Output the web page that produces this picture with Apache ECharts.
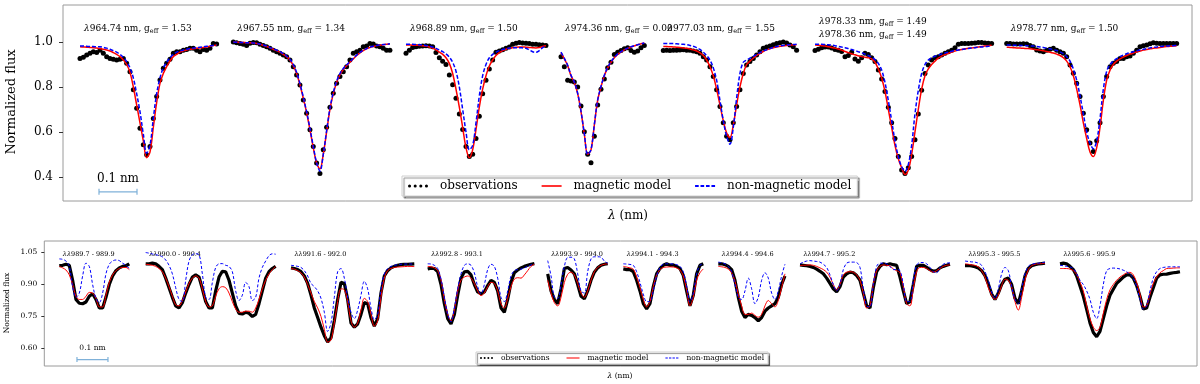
<!DOCTYPE html>
<html>
<head>
<meta charset="utf-8">
<script src="https://cdn.jsdelivr.net/npm/echarts@6/dist/echarts.min.js"></script>
<style>
html, body { margin: 0; background: #fff; }
#main { width: 1200px; height: 384px; }
</style>
</head>
<body>
<div id="main"></div>
<script>
// wavelength spacing of the sampled spectra (nm)
const topStep = 0.00877
const botStep = 0.01075

// line identifications (wavelength nm, g_eff); the 6th window holds a blend
const topLines = [
  [['964.74', '1.53']],
  [['967.55', '1.34']],
  [['968.89', '1.50']],
  [['974.36', '0.00']],
  [['977.03', '1.55']],
  [['978.33', '1.49'], ['978.36', '1.49']],
  [['978.77', '1.50']],
]
const botRanges = ['989.7 - 989.9', '990.0 - 990.4', '991.6 - 992.0', '992.8 - 993.1', '993.9 - 994.0',
  '994.1 - 994.3', '994.4 - 994.6', '994.7 - 995.2', '995.3 - 995.5', '995.6 - 995.9']

const topTicks = [0.4, 0.6, 0.8, 1.0]
const botTicks = [0.60, 0.75, 0.90, 1.05]

// normalized flux, upper panel
const topObs = [
  [.927,.932,.942,.95,.957,.953,.964,.95,.935,.927,.923,.92,.923,.927,.905,.868,.787,.705,.616,.542,.498,.535,.66,.757,.831,.883,.905,.923,.95,.957,.957,.964,.967,.972,.972,.964,.957,.967,.964,.972,.994,.991],
  [1.0,.997,.994,.99,.985,.995,.998,.997,.99,.985,.979,.972,.964,.957,.95,.942,.935,.92,.89,.853,.809,.742,.683,.609,.535,.461,.415,.52,.62,.71,.772,.816,.846,.868,.89,.92,.95,.957,.964,.979,.982,.994,.991,.982,.979,.972,.964,.964],
  [.95,.963,.976,.979,.981,.982,.984,.982,.979,.953,.93,.915,.9,.853,.81,.75,.68,.61,.535,.49,.5,.57,.67,.77,.83,.88,.92,.955,.96,.966,.972,.978,.99,.995,.998,.996,.995,.993,.99,.99,.988,.987,.985],
  [.935,.89,.83,.827,.822,.8,.715,.6,.5,.462,.58,.72,.79,.835,.885,.91,.945,.955,.962,.97,.975,.962,.955,.96,.975,.985],
  [.962,.963,.962,.964,.963,.965,.966,.964,.963,.96,.957,.95,.935,.92,.89,.846,.787,.713,.64,.58,.565,.64,.713,.787,.86,.898,.913,.927,.942,.957,.972,.978,.982,.988,.994,.997,1.0,.996,.987,.979,.964],
  [.962,.968,.975,.978,.978,.973,.967,.964,.958,.935,.94,.955,.925,.915,.93,.95,.945,.93,.913,.875,.835,.78,.71,.64,.57,.49,.43,.415,.44,.49,.565,.68,.785,.86,.898,.92,.93,.935,.942,.95,.957,.964,.975,.99,.993,.994,.994,.995,.996,.998,.998,.996,.995,.994],
  [.994,.993,.991,.991,.991,.992,.991,.985,.979,.965,.96,.957,.963,.968,.972,.964,.957,.95,.935,.898,.861,.816,.757,.683,.609,.55,.513,.56,.64,.757,.846,.89,.905,.913,.927,.927,.935,.938,.95,.964,.979,.983,.987,.992,.997,.995,.994,.994,.994,.993,.993,.994],
]
const topMag = [
  [.979,.978,.977,.976,.975,.973,.971,.968,.965,.96,.953,.945,.935,.92,.9,.865,.80,.72,.64,.56,.485,.51,.62,.73,.816,.86,.89,.915,.935,.945,.955,.961,.965,.968,.97,.972,.974,.976,.978,.981,.984,.987],
  [1.0,.999,.998,.998,.997,.997,.996,.994,.99,.985,.98,.974,.968,.962,.955,.945,.935,.92,.895,.86,.81,.75,.685,.61,.53,.46,.435,.5,.6,.7,.77,.82,.855,.878,.895,.91,.925,.94,.952,.962,.97,.976,.98,.984,.986,.988,.99,.991],
  [.987,.987,.986,.986,.985,.984,.982,.978,.973,.965,.955,.945,.93,.905,.86,.79,.71,.62,.53,.485,.52,.61,.71,.79,.85,.893,.92,.94,.953,.962,.968,.972,.975,.977,.978,.978,.977,.976,.975,.974,.976,.98,.983],
  [.953,.925,.895,.85,.82,.77,.69,.59,.5,.52,.63,.74,.8,.85,.885,.91,.93,.945,.955,.965,.972,.978,.983,.988,.992,.996],
  [.98,.98,.979,.978,.977,.976,.974,.972,.969,.965,.96,.952,.94,.92,.89,.85,.79,.72,.65,.595,.575,.63,.72,.8,.86,.9,.915,.928,.94,.95,.958,.965,.97,.975,.978,.981,.983,.985,.986,.987,.988],
  [.987,.986,.984,.982,.979,.976,.973,.969,.964,.958,.953,.948,.943,.939,.935,.932,.93,.925,.91,.88,.84,.78,.7,.62,.54,.48,.44,.41,.43,.5,.6,.7,.79,.85,.88,.9,.915,.928,.937,.944,.95,.955,.96,.964,.967,.97,.972,.974,.976,.978,.98,.982,.984,.986],
  [.977,.976,.975,.974,.973,.972,.971,.97,.968,.966,.964,.961,.958,.955,.951,.946,.94,.93,.915,.89,.85,.79,.72,.64,.57,.51,.49,.53,.62,.74,.83,.875,.9,.915,.925,.933,.94,.946,.951,.956,.96,.964,.967,.97,.972,.974,.976,.978,.98,.981,.982,.983],
]
const topNon = [
  [.982,.982,.981,.98,.98,.979,.979,.976,.973,.968,.962,.955,.945,.932,.913,.885,.84,.77,.69,.59,.505,.54,.66,.77,.84,.885,.91,.93,.945,.955,.96,.965,.968,.971,.973,.975,.977,.979,.981,.983,.985,.987],
  [1.0,.999,.998,.998,.997,.997,.996,.994,.991,.987,.982,.976,.97,.964,.957,.948,.938,.923,.9,.865,.815,.755,.69,.615,.535,.462,.425,.5,.605,.705,.775,.825,.86,.882,.898,.913,.928,.942,.954,.963,.971,.977,.981,.985,.987,.989,.99,.992],
  [.99,.99,.99,.989,.988,.987,.985,.982,.978,.972,.965,.957,.947,.933,.91,.87,.8,.7,.6,.52,.54,.64,.76,.85,.9,.93,.945,.955,.962,.967,.97,.973,.974,.975,.975,.974,.972,.965,.957,.954,.962,.975,.985],
  [.955,.927,.897,.852,.822,.772,.692,.592,.5,.52,.632,.742,.802,.852,.887,.912,.932,.947,.957,.966,.973,.979,.984,.988,.992,.996],
  [.994,.994,.993,.993,.992,.991,.99,.988,.985,.981,.975,.967,.955,.94,.92,.885,.83,.74,.65,.58,.545,.62,.75,.86,.91,.92,.928,.936,.945,.953,.96,.966,.971,.976,.98,.983,.985,.987,.988,.989,.99],
  [.99,.99,.99,.989,.988,.986,.984,.981,.978,.975,.971,.967,.962,.957,.952,.946,.94,.932,.922,.905,.875,.82,.74,.65,.56,.49,.445,.425,.455,.54,.68,.785,.86,.9,.92,.93,.937,.942,.947,.951,.955,.959,.962,.965,.967,.969,.971,.973,.975,.977,.978,.98,.981,.982],
  [.987,.987,.986,.986,.985,.985,.984,.983,.982,.98,.978,.976,.973,.97,.966,.962,.956,.948,.935,.915,.88,.83,.76,.68,.6,.55,.525,.56,.66,.79,.87,.9,.915,.926,.935,.942,.948,.953,.957,.961,.965,.968,.971,.974,.976,.978,.98,.981,.982,.983,.984,.985],
]

// normalized flux, lower panel
const botObs = [
  [.989,.99,.995,.99,.92,.83,.812,.81,.818,.845,.857,.83,.79,.79,.84,.9,.94,.965,.978,.985,.988,.997],
  [.997,.997,1.0,.997,.985,.97,.93,.885,.84,.8,.79,.815,.86,.9,.935,.945,.935,.88,.82,.79,.79,.87,.935,.962,.96,.92,.86,.8,.765,.762,.77,.765,.75,.76,.81,.87,.93,.96,.975,.985],
  [.978,.975,.97,.96,.94,.905,.85,.79,.745,.7,.66,.63,.65,.73,.83,.91,.905,.83,.72,.7,.715,.76,.815,.81,.745,.705,.74,.86,.94,.965,.978,.985,.99,.993,.995,.995,.996,.997],
  [.973,.977,.975,.96,.9,.81,.74,.715,.76,.85,.93,.96,.962,.945,.9,.865,.856,.865,.895,.92,.91,.87,.79,.77,.83,.91,.955,.968,.978,.985,.99,.995,.998],
  [.95,.87,.83,.81,.88,.975,.98,.968,.95,.9,.845,.833,.87,.92,.958,.978,.99,.995,.998],
  [.973,.97,.97,.96,.92,.87,.81,.786,.81,.89,.95,.975,.99,.997,.99,.992,.985,.975,.943,.87,.8,.85,.95,.99,.997],
  [.997,.997,.993,.985,.97,.92,.84,.775,.745,.76,.755,.745,.73,.745,.775,.79,.8,.81,.84,.9,.94],
  [.992,.99,.988,.985,.98,.972,.962,.95,.93,.905,.88,.866,.89,.935,.95,.958,.955,.942,.92,.86,.8,.79,.885,.96,.985,.997,.993,.997,.993,.99,.935,.87,.81,.82,.9,.985,.99,.99,.98,.97,.962,.965,.978,.985,.99,.995],
  [.989,.989,.987,.983,.977,.965,.942,.903,.855,.83,.86,.9,.925,.93,.9,.835,.81,.87,.94,.975,.988,.993,.996,.998,1.0],
  [.997,1.0,.997,.985,.97,.94,.893,.845,.784,.72,.675,.655,.68,.74,.8,.85,.878,.905,.92,.935,.945,.945,.93,.895,.845,.785,.79,.84,.885,.93,.945,.948,.949,.952,.955,.957,.96],
]
const botMag = [
  [.985,.978,.968,.945,.9,.845,.83,.83,.845,.863,.86,.835,.795,.795,.85,.91,.945,.965,.975,.98,.98,.97],
  [.995,.993,.99,.985,.975,.96,.93,.89,.845,.805,.8,.825,.865,.905,.93,.94,.93,.88,.82,.795,.8,.845,.88,.89,.885,.86,.82,.785,.77,.77,.775,.775,.77,.79,.83,.88,.92,.95,.97,.985],
  [.975,.972,.965,.955,.935,.9,.86,.82,.79,.75,.69,.63,.64,.72,.82,.88,.875,.82,.73,.7,.72,.78,.835,.82,.76,.705,.73,.84,.93,.965,.975,.98,.982,.983,.984,.985,.985,.984],
  [.985,.983,.978,.965,.92,.83,.76,.73,.78,.87,.92,.935,.94,.93,.905,.87,.848,.86,.89,.91,.905,.87,.81,.79,.835,.89,.925,.932,.93,.945,.965,.985,.995],
  [.92,.86,.815,.8,.84,.91,.948,.958,.945,.905,.86,.84,.87,.92,.96,.98,.99,.995,.997],
  [.985,.982,.978,.972,.935,.885,.83,.795,.82,.89,.945,.97,.98,.982,.983,.982,.978,.968,.94,.875,.8,.84,.92,.955,.973],
  [.985,.983,.98,.972,.955,.915,.855,.8,.76,.76,.766,.755,.747,.76,.8,.825,.81,.795,.825,.885,.95],
  [.989,.99,.991,.992,.99,.985,.978,.97,.958,.935,.9,.875,.9,.945,.958,.96,.958,.945,.92,.86,.79,.8,.9,.965,.985,.992,.99,.987,.973,.965,.955,.89,.81,.8,.88,.96,.98,.98,.975,.965,.958,.965,.975,.985,.99,.992],
  [.997,.995,.992,.99,.982,.965,.935,.885,.85,.83,.85,.895,.925,.92,.89,.82,.78,.84,.92,.97,.988,.995,.997,.998,1.0],
  [.975,.975,.975,.972,.965,.947,.91,.87,.8,.74,.7,.684,.7,.765,.83,.875,.9,.92,.935,.945,.955,.957,.945,.91,.855,.795,.8,.855,.905,.935,.955,.965,.975,.976,.977,.978,.978],
]
const botNon = [
  [1.02,1.018,1.01,.985,.89,.84,.86,.94,1.0,.985,.9,.835,.815,.86,.95,.995,1.01,1.015,1.012,1.0,.99,.975],
  [1.05,1.047,1.043,1.04,1.036,1.03,1.015,.99,.95,.885,.83,.82,.92,1.01,1.04,1.044,1.04,.95,.84,.83,.91,.98,.997,.998,.99,.985,.96,.87,.825,.85,.91,.89,.825,.84,.93,.98,1.01,1.035,1.044,1.042],
  [.99,.988,.985,.98,.965,.94,.905,.89,.87,.835,.77,.68,.72,.84,.96,.975,.93,.84,.77,.74,.78,.85,.915,.88,.79,.735,.76,.88,.95,.975,.985,.99,.993,.995,.996,.996,.996,.996],
  [.997,.996,.99,.975,.925,.84,.76,.725,.79,.88,.95,.99,.997,.99,.955,.89,.856,.9,.97,.995,.985,.93,.84,.82,.87,.94,.965,.97,.972,.978,.985,.992,.997],
  [1.012,.94,.84,.835,.9,.985,1.027,1.028,1.02,.95,.87,.86,.96,1.02,1.03,1.03,1.028,1.01,1.0],
  [.997,.996,.994,.99,.96,.91,.855,.82,.82,.87,.94,.98,.995,.997,.997,.996,.993,.985,.96,.895,.818,.86,.95,.99,.997],
  [1.005,1.002,.997,.985,.96,.9,.84,.83,.87,.93,.88,.81,.84,.92,.955,.93,.86,.83,.87,.94,.995],
  [.997,1.005,1.01,1.012,1.01,1.008,1.005,.995,.98,.945,.9,.87,.9,.97,1.0,1.005,1.005,1.003,.98,.88,.8,.795,.9,.985,1.0,1.0,.997,.985,.97,.97,.965,.9,.82,.82,.92,.99,1.003,1.003,.997,.98,.96,.955,.98,.995,1.0,1.002],
  [1.01,1.008,1.006,1.005,1.0,.99,.96,.92,.865,.835,.88,.95,.98,.965,.89,.83,.81,.88,.95,.985,.995,.998,1.0,1.002,1.005],
  [.99,.988,.985,.982,.975,.95,.92,.9,.87,.83,.77,.74,.8,.9,.965,.975,.977,.976,.973,.967,.96,.947,.93,.89,.83,.785,.8,.87,.93,.96,.975,.98,.982,.983,.983,.983,.983],
]

// ---- layout (pixels) ----
const serif = 'DejaVu Serif'
const topPanel = {
  left: 63, top: 5, width: 1129, height: 196, range: [0.292, 1.165], pxPerNm: 380, step: topStep,
  starts: [80, 233.3, 406, 561, 663.3, 815, 1006.7],
  ticks: topTicks, dec: 1, font: 12, tickLen: 4, labelMargin: 10,
  dotSize: 5, lineW: 1.5, dash: [4, 2],
  bar: { x: 0.05, y: 0.333, text: [118, 179] },
}
const botPanel = {
  left: 44.3, top: 241, width: 1152.7, height: 125, range: [0.518, 1.104], pxPerNm: 310, step: botStep,
  starts: [59.3, 145.7, 291, 427.7, 547.7, 623.3, 718.3, 800, 965, 1060],
  ticks: botTicks, dec: 2, font: 7.5, tickLen: 3, labelMargin: 7,
  dotSize: 0, lineW: 1, dash: [3, 2],
  bar: { x: 0.057, y: 0.548, text: [92.5, 348] },
}

const grids = [], xAxes = [], yAxes = [], series = [], graphic = []

function addPanel(p, obs, mag, non) {
  const gi = grids.length
  grids.push({ left: p.left, top: p.top, width: p.width, height: p.height, show: true, borderColor: '#9a9a9a', borderWidth: 1 })
  xAxes.push({ gridIndex: gi, type: 'value', show: false, min: 0, max: 1 })
  yAxes.push({
    gridIndex: gi, type: 'value', min: p.range[0], max: p.range[1],
    axisLine: { show: false }, splitLine: { show: false },
    axisTick: { show: true, customValues: p.ticks, length: p.tickLen, lineStyle: { color: '#333' } },
    axisLabel: { customValues: p.ticks, formatter: v => v.toFixed(p.dec), fontFamily: serif, fontSize: p.font, color: '#000', margin: p.labelMargin },
  })

  p.starts.forEach((x0, k) => {
    const n = obs[k].length
    const span = (n - 1) * p.step
    const g = grids.length
    grids.push({ left: x0, top: p.top, width: span * p.pxPerNm, height: p.height, show: false })
    xAxes.push({ gridIndex: g, type: 'value', show: false, min: 0, max: span })
    yAxes.push({ gridIndex: g, type: 'value', show: false, min: p.range[0], max: p.range[1] })
    const pts = arr => arr.map((f, i) => [i * p.step, f])

    if (p.dotSize) {
      series.push({ name: 'observations', type: 'scatter', xAxisIndex: g, yAxisIndex: g, data: pts(obs[k]),
        symbolSize: p.dotSize, itemStyle: { color: '#000', opacity: 1 }, silent: true })
    } else {
      // dense points of the lower panel merge into a thick band
      series.push({ name: 'observations', type: 'line', xAxisIndex: g, yAxisIndex: g, data: pts(obs[k]),
        symbol: 'none', lineStyle: { color: '#000', width: 3.2 }, itemStyle: { color: '#000' }, silent: true })
    }
    series.push({ name: 'magnetic model', type: 'line', xAxisIndex: g, yAxisIndex: g, data: pts(mag[k]),
      symbol: 'none', smooth: 0.35, lineStyle: { color: '#ff0000', width: p.lineW }, itemStyle: { color: '#ff0000' }, silent: true })
    series.push({ name: 'non-magnetic model', type: 'line', xAxisIndex: g, yAxisIndex: g, data: pts(non[k]),
      symbol: 'none', smooth: 0.35, lineStyle: { color: '#0000ff', width: p.lineW, type: p.dash }, itemStyle: { color: '#0000ff' }, silent: true })

    if (k === 0) {
      // 0.1 nm scale bar, drawn on the wavelength scale of the first window
      series.push({ name: 'scale', type: 'line', xAxisIndex: g, yAxisIndex: g,
        data: [[p.bar.x, p.bar.y], [p.bar.x + 0.1, p.bar.y]],
        symbol: 'rect', symbolSize: [1.2, p.tickLen + 2], showSymbol: true,
        lineStyle: { color: '#7fb1d9', width: 1.3 }, itemStyle: { color: '#7fb1d9' }, silent: true })
      graphic.push({ type: 'text', x: p.bar.text[0], y: p.bar.text[1],
        style: { text: '0.1 nm', font: `${p.font}px ${serif}`, fill: '#000', align: 'center', verticalAlign: 'middle' } })
    }
  })
}

addPanel(topPanel, topObs, topMag, topNon)
addPanel(botPanel, botObs, botMag, botNon)

// window labels
const richTop = {
  l: { fontFamily: serif, fontSize: 9, fontStyle: 'italic', fill: '#000' },
  t: { fontFamily: serif, fontSize: 9, fill: '#000' },
  s: { fontFamily: serif, fontSize: 6.5, fill: '#000', padding: [4, 0, 0, 0] },
}
topLines.forEach((lines, k) => {
  lines.forEach((ln, j) => {
    const y = lines.length > 1 ? 22 + j * 13 : 29
    graphic.push({ type: 'text', x: topPanel.starts[k] + 4, y: y,
      style: { text: `{l|λ}{t|${ln[0]} nm, g}{s|eff}{t| = ${ln[1]}}`, rich: richTop, verticalAlign: 'middle' } })
  })
})
botRanges.forEach((r, k) => {
  graphic.push({ type: 'text', x: botPanel.starts[k] + 3.5, y: 254,
    style: { text: `{l|λλ}{t|${r}}`, verticalAlign: 'middle',
      rich: { l: { fontFamily: serif, fontSize: 6.5, fontStyle: 'italic', fill: '#000' }, t: { fontFamily: serif, fontSize: 6.5, fill: '#000' } } } })
})

// axis titles
graphic.push(
  { type: 'text', x: 12, y: 102, rotation: Math.PI / 2,
    style: { text: 'Normalized flux', font: `13px ${serif}`, fill: '#000', align: 'center', verticalAlign: 'middle' } },
  { type: 'text', x: 7.5, y: 303, rotation: Math.PI / 2,
    style: { text: 'Normalized flux', font: `7.5px ${serif}`, fill: '#000', align: 'center', verticalAlign: 'middle' } },
  { type: 'text', x: 628, y: 216,
    style: { text: '{l|λ}{t| (nm)}', align: 'center', verticalAlign: 'middle',
      rich: { l: { fontFamily: serif, fontSize: 12, fontStyle: 'italic', fill: '#000' }, t: { fontFamily: serif, fontSize: 12, fill: '#000' } } } },
  { type: 'text', x: 620, y: 376,
    style: { text: '{l|λ}{t| (nm)}', align: 'center', verticalAlign: 'middle',
      rich: { l: { fontFamily: serif, fontSize: 7.5, fontStyle: 'italic', fill: '#000' }, t: { fontFamily: serif, fontSize: 7.5, fill: '#000' } } } },
)

// legend icons
const dots = 'path://M0,1.5a1.5,1.5 0 1 0 3,0a1.5,1.5 0 1 0 -3,0Z M5.5,1.5a1.5,1.5 0 1 0 3,0a1.5,1.5 0 1 0 -3,0Z M11,1.5a1.5,1.5 0 1 0 3,0a1.5,1.5 0 1 0 -3,0Z M16.5,1.5a1.5,1.5 0 1 0 3,0a1.5,1.5 0 1 0 -3,0Z'
const solid = 'path://M0,0H20V1.6H0Z'
const dashed = 'path://M0,0H3.2V1.6H0Z M4.8,0H8V1.6H4.8Z M9.6,0H12.8V1.6H9.6Z M14.4,0H17.6V1.6H14.4Z'
const legendData = [
  { name: 'observations', icon: dots },
  { name: 'magnetic model', icon: solid },
  { name: 'non-magnetic model', icon: dashed },
]
const legendBox = {
  orient: 'horizontal', selectedMode: false, data: legendData,
  backgroundColor: '#fff', borderColor: '#cfcfcf', borderWidth: 1, borderRadius: 0,
  shadowColor: 'rgba(0,0,0,0.45)', shadowBlur: 1, shadowOffsetX: 2, shadowOffsetY: 2,
}

const chart = echarts.init(document.getElementById('main'))
chart.setOption({
  animation: false,
  backgroundColor: '#fff',
  grid: grids,
  xAxis: xAxes,
  yAxis: yAxes,
  series: series,
  graphic: graphic,
  legend: [
    Object.assign({}, legendBox, {
      left: 402, top: 176, padding: [4, 6], itemWidth: 20, itemHeight: 10, itemGap: 24,
      textStyle: { fontFamily: serif, fontSize: 12, color: '#000', padding: [0, 0, 0, 7] },
    }),
    Object.assign({}, legendBox, {
      left: 476, top: 352, padding: [2, 4], itemWidth: 13, itemHeight: 5, itemGap: 17,
      shadowOffsetX: 1.5, shadowOffsetY: 1.5,
      textStyle: { fontFamily: serif, fontSize: 7.5, color: '#000', padding: [0, 0, 0, 3] },
    }),
  ],
})
</script>
</body>
</html>
